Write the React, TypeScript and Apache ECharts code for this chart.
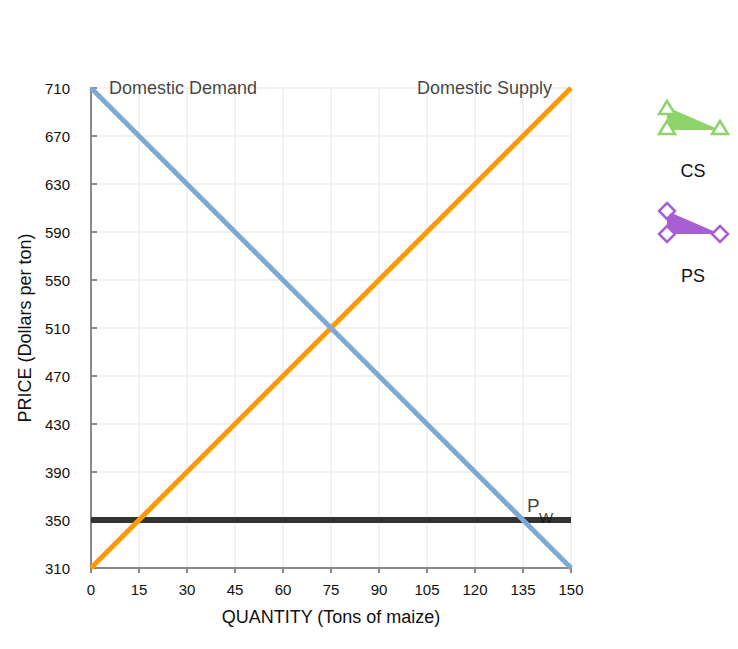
import React, { useEffect, useRef } from "react";
import * as echarts from "echarts";

const quantityTicks = [0, 15, 30, 45, 60, 75, 90, 105, 120, 135, 150];
const priceTicks = [310, 350, 390, 430, 470, 510, 550, 590, 630, 670, 710];
const demandPoints: [number, number][] = [[0, 710], [150, 310]];
const supplyPoints: [number, number][] = [[0, 310], [150, 710]];
const worldPricePoints: [number, number][] = [[0, 350], [150, 350]];
const lineLabels = [
  { name: "Domestic Demand", at: [0, 710] },
  { name: "Domestic Supply", at: [150, 710] },
];
const worldPriceLabelAt: [number, number] = [135, 350];
const legendItems = ["CS", "PS"];

const FONT = "'Liberation Sans', Arial, sans-serif";
const TXT = "#111";

export default function App() {
  const ref = useRef<HTMLDivElement>(null);
  useEffect(() => {
    if (!ref.current) return;
    const chart = echarts.init(ref.current, undefined, { renderer: "svg" });
    const green = "#8fd46a";
    const purple = "#a95fd4";
    const tri = (cx: number, cy: number) => ({
      type: "polygon",
      shape: { points: [[cx, cy - 7], [cx + 8, cy + 6], [cx - 8, cy + 6]] },
      style: { fill: "#fff", stroke: green, lineWidth: 2.5 },
      z: 10,
    });
    const dia = (cx: number, cy: number) => ({
      type: "polygon",
      shape: { points: [[cx, cy - 8], [cx + 8, cy], [cx, cy + 8], [cx - 8, cy]] },
      style: { fill: "#fff", stroke: purple, lineWidth: 2.5 },
      z: 10,
    });
    const lbl = (extra: any) => ({
      show: true,
      fontSize: 18,
      color: TXT,
      fontFamily: FONT,
      ...extra,
    });
    chart.setOption({
      animation: false,
      textStyle: { fontFamily: FONT },
      grid: { left: 91, top: 88, right: 167, bottom: 81 },
      xAxis: {
        type: "value",
        min: 0,
        max: 150,
        interval: 15,
        name: "QUANTITY (Tons of maize)",
        nameLocation: "middle",
        nameGap: 40,
        nameTextStyle: { fontSize: 18, color: TXT, fontFamily: FONT },
        axisLine: { show: true, lineStyle: { color: "#888", width: 2 } },
        axisTick: { show: true, length: 5, lineStyle: { color: "#888", width: 2 } },
        axisLabel: { fontSize: 15, color: TXT, margin: 14, fontFamily: FONT },
        splitLine: { show: true, lineStyle: { color: "#eeeeee", width: 1.5 } },
      },
      yAxis: {
        type: "value",
        min: 310,
        max: 710,
        interval: 40,
        name: "PRICE (Dollars per ton)",
        nameLocation: "middle",
        nameGap: 57,
        nameRotate: 90,
        nameTextStyle: { fontSize: 18, color: TXT, fontFamily: FONT },
        axisLine: { show: true, lineStyle: { color: "#888", width: 2 } },
        axisTick: { show: true, inside: true, length: 6, lineStyle: { color: "#888", width: 2 } },
        axisLabel: { fontSize: 15, color: TXT, margin: 21, fontFamily: FONT },
        splitLine: { show: true, lineStyle: { color: "#eeeeee", width: 1.5 } },
      },
      series: [
        {
          type: "line",
          data: worldPricePoints,
          symbol: "none",
          lineStyle: { color: "#333", width: 6 },
          z: 3,
        },
        {
          type: "line",
          data: supplyPoints,
          symbol: "none",
          lineStyle: { color: "#ff9900", width: 5 },
          z: 4,
        },
        {
          type: "line",
          data: demandPoints,
          symbol: "none",
          lineStyle: { color: "#7ea9d3", width: 5 },
          z: 5,
        },
        {
          type: "scatter",
          symbolSize: 0,
          z: 6,
          data: [
            {
              value: lineLabels[0].at,
              label: lbl({ formatter: lineLabels[0].name, position: "right", distance: 18 }),
            },
            {
              value: lineLabels[1].at,
              label: lbl({ formatter: lineLabels[1].name, position: "left", distance: 19 }),
            },
            {
              value: worldPriceLabelAt,
              label: lbl({
                formatter: "P",
                fontSize: 19,
                position: "inside",
                align: "left",
                verticalAlign: "middle",
                offset: [4, -15],
              }),
            },
            {
              value: worldPriceLabelAt,
              label: lbl({
                formatter: "W",
                fontSize: 15,
                position: "inside",
                align: "left",
                verticalAlign: "middle",
                offset: [16, -3],
              }),
            },
          ],
        },
      ],
      graphic: [
        {
          type: "polygon",
          shape: { points: [[667, 107], [720, 130], [667, 130]] },
          style: { fill: green },
        },
        tri(667, 108),
        tri(667, 128),
        tri(720, 128),
        {
          type: "text",
          x: 693,
          y: 171,
          style: { text: legendItems[0], fill: TXT, font: `18px ${FONT}`, align: "center", verticalAlign: "middle" },
        },
        {
          type: "polygon",
          shape: { points: [[667, 211], [720, 234], [667, 234]] },
          style: { fill: purple },
        },
        dia(667, 211),
        dia(667, 234),
        dia(720, 234),
        {
          type: "text",
          x: 693,
          y: 276,
          style: { text: legendItems[1], fill: TXT, font: `18px ${FONT}`, align: "center", verticalAlign: "middle" },
        },
      ],
    });
    return () => chart.dispose();
  }, []);
  return <div ref={ref} style={{ width: 738, height: 649, position: "absolute", left: 0, top: 0 }} />;
}
